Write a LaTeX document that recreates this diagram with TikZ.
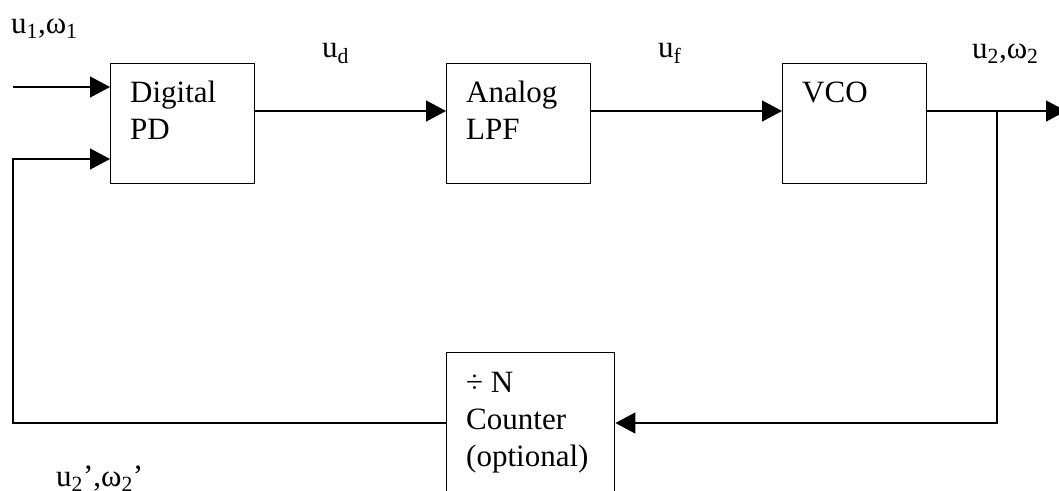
\documentclass[tikz,border=0pt]{standalone}
\usepackage{fontspec}
\setmainfont{Liberation Serif}
\usetikzlibrary{arrows.meta,calc}
% a left-aligned stack of lines whose baseline is that of its first line
\newcommand{\linestack}[1]{\begin{tabular}[t]{@{}l@{}}#1\end{tabular}}
\begin{document}
\begin{tikzpicture}[x=1pt,y=-1pt,
  blk/.style={draw,line width=1.4pt,minimum width=144pt,minimum height=120pt,inner sep=0pt,anchor=north west},
  txt/.style={font=\fontsize{31}{37}\selectfont,anchor=base west,inner sep=0pt},
  lbl/.style={font=\fontsize{31}{34}\selectfont,anchor=base west,inner sep=0pt},
  wire/.style={line width=1.4pt},
  sig/.style={wire,-{Triangle[length=20pt,width=21pt]}}]
\useasboundingbox (0,0) rectangle (1059,490);
\clip (0,0) rectangle (1059,490);

% blocks
\node[blk] (pd)  at (110,63) {};
\node[blk] (lpf) at (446,63) {};
\node[blk] (vco) at (782,63) {};
\node[blk,minimum width=168pt,minimum height=160pt] (cnt) at (446,352) {};

% block texts
\node[txt] (pdt)  at (130,102) {\linestack{Digital\\PD}};
\node[txt] (lpft) at (466,102) {\linestack{Analog\\LPF}};
\node[txt] (vcot) at (802,102) {VCO};
\node[txt] (cntt) at (466,392) {\linestack{÷ N\\Counter\\(optional)}};

% signal path coordinates
\coordinate (in1) at (13,87);
\coordinate (fbin) at (13,159);
\coordinate (main) at (0,111);
\coordinate (jn) at (997,111);
\coordinate (out) at (1066,111);
\coordinate (fb) at (0,423);

% connectors
\draw[sig] (in1) -- (pd.west |- in1);
\draw[sig] (pd.east |- main) -- (lpf.west |- main);
\draw[sig] (lpf.east |- main) -- (vco.west |- main);
\draw[sig] (vco.east |- main) -- (out);
\draw[sig] (jn) |- (cnt.east |- fb);
\draw[sig] (cnt.west |- fb) -| (fbin) -- (pd.west |- fbin);

% signal labels
\node[lbl] (l1) at (11,33) {u\textsubscript{1},ω\textsubscript{1}};
\node[lbl] (ld) at (322,57) {u\textsubscript{d}};
\node[lbl] (lf) at (658,57) {u\textsubscript{f}};
\node[lbl] (l2) at (972,58) {u\textsubscript{2},ω\textsubscript{2}};
\node[lbl] (l2p) at (56,486) {u\textsubscript{2}’,ω\textsubscript{2}’};
\end{tikzpicture}
\end{document}
